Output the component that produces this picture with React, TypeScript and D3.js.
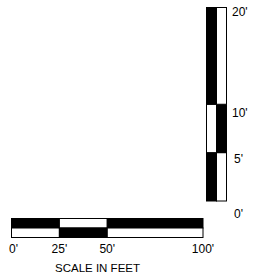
import React from "react";
import * as d3 from "d3";

// Horizontal scale (feet)
const hSegments = [
  { from: 0, to: 25, top: "black", bottom: "white" },
  { from: 25, to: 50, top: "white", bottom: "black" },
  { from: 50, to: 100, top: "black", bottom: "white" },
];
const hTicks = [0, 25, 50, 100];

// Vertical scale (feet)
const vSegments = [
  { from: 0, to: 5, left: "black", right: "white" },
  { from: 5, to: 10, left: "white", right: "black" },
  { from: 10, to: 20, left: "black", right: "white" },
];
const vTicks = [0, 5, 10, 20];
const vLabelDy: Record<number, number> = { 0: 17, 5: 10, 10: 13, 20: 8.5 };

const title = "SCALE IN FEET";

export default function App() {
  const x = d3.scaleLinear().domain([0, 100]).range([11.5, 203]);
  const y = d3.scaleLinear().domain([0, 20]).range([201, 7.5]);
  const hTop = 218.5, hMid = 228, hBot = 237.5;
  const vLeft = 206.5, vMid = 216.5, vRight = 226.5;
  const font = "'Liberation Sans', Arial, sans-serif";
  return (
    <svg width={262} height={275} style={{ position: "absolute", left: 0, top: 0 }}>
      <rect width={262} height={275} fill="white" />
      {hSegments.map((s, i) => (
        <g key={"h" + i}>
          <rect x={x(s.from)} y={hTop} width={x(s.to) - x(s.from)} height={hMid - hTop} fill={s.top} stroke="black" strokeWidth={1} />
          <rect x={x(s.from)} y={hMid} width={x(s.to) - x(s.from)} height={hBot - hMid} fill={s.bottom} stroke="black" strokeWidth={1} />
        </g>
      ))}
      {hTicks.map((t) => (
        <text key={"ht" + t} x={x(t) + (t === 0 ? 2 : 0)} y={252.5} textAnchor="middle" fontFamily={font} fontSize={12} fill="black">
          {t + "'"}
        </text>
      ))}
      <text x={97.5} y={272} textAnchor="middle" fontFamily={font} fontSize={11.5} fill="black">{title}</text>
      {vSegments.map((s, i) => (
        <g key={"v" + i}>
          <rect x={vLeft} y={y(s.to)} width={vMid - vLeft} height={y(s.from) - y(s.to)} fill={s.left} stroke="black" strokeWidth={1} />
          <rect x={vMid} y={y(s.to)} width={vRight - vMid} height={y(s.from) - y(s.to)} fill={s.right} stroke="black" strokeWidth={1} />
        </g>
      ))}
      {vTicks.map((t) => (
        <text key={"vt" + t} x={t < 10 ? 234 : 232} y={y(t) + vLabelDy[t]} textAnchor="start" fontFamily={font} fontSize={12} fill="black">
          {t + "'"}
        </text>
      ))}
    </svg>
  );
}
